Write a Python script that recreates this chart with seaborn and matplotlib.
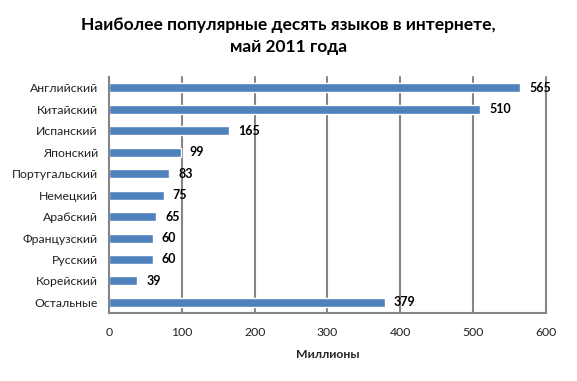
import numpy as np
import pandas as pd
import matplotlib
matplotlib.use("Agg")
import matplotlib.pyplot as plt
import seaborn as sns

languages = ["Английский", "Китайский", "Испанский", "Японский", "Португальский",
             "Немецкий", "Арабский", "Французский", "Русский", "Корейский", "Остальные"]
users = [565, 510, 165, 99, 83, 75, 65, 60, 60, 39, 379]
x_ticks = [0, 100, 200, 300, 400, 500, 600]

df = pd.DataFrame({"Язык": languages, "Пользователи": users})

sns.set_style("white")
plt.rcParams["font.family"] = ["Lato", "DejaVu Sans"]

fig = plt.figure(figsize=(5.77, 3.81), dpi=100)
ax = fig.add_axes([0.189, 0.178, 0.757, 0.62])

grid_color = "#868686"
for t in x_ticks[1:]:
    ax.axvline(t, color=grid_color, lw=1.5, zorder=0, clip_on=False)

sns.barplot(data=df, x="Пользователи", y="Язык", orient="h", color="#4F81BD",
            saturation=1, width=0.42, ax=ax, zorder=2)

for i, v in enumerate(users):
    ax.text(v + 12, i, str(v), va="center", ha="left", fontsize=9,
            fontweight="bold", color="black", zorder=3)

ax.set_xlim(0, 600)
ax.set_ylim(len(languages) - 0.5, -0.5)
ax.set_xticks(x_ticks)
ax.set_xticklabels([str(t) for t in x_ticks], fontsize=8.8, color="#222222")
ax.tick_params(axis="x", direction="out", length=4, width=1.5, color=grid_color, pad=6)
ax.tick_params(axis="y", which="major", length=0, labelsize=8.8, labelcolor="#222222", pad=8)
ax.set_yticks(np.arange(-0.5, len(languages) + 0.5, 1), minor=True)
ax.tick_params(axis="y", which="minor", direction="out", length=4, width=1.5, color=grid_color)

for s in ["top", "right"]:
    ax.spines[s].set_visible(False)
for s in ["left", "bottom"]:
    ax.spines[s].set_color(grid_color)
    ax.spines[s].set_linewidth(1.5)

ax.set_ylabel("")
ax.set_xlabel("Миллионы", fontsize=8.8, fontweight="bold", labelpad=8)

fig.suptitle("Наиболее популярные десять языков в интернете,\nмай 2011 года",
             fontsize=12.5, fontweight="bold", y=0.955, linespacing=1.45, color="black")

fig.savefig("out.png", dpi=100)
